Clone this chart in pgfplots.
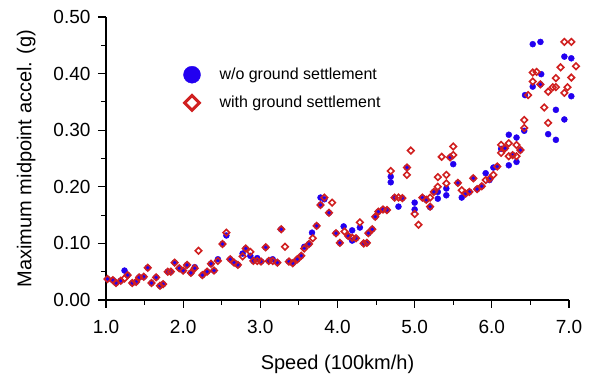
\documentclass[border=0pt]{standalone}
\usepackage{pgfplots}
\pgfplotsset{compat=1.18}
\usepackage{fontspec}
\setmainfont{Liberation Sans}
\definecolor{myblue}{RGB}{34,0,240}
\definecolor{myred}{RGB}{208,32,32}
\begin{document}
\begin{tikzpicture}
\begin{axis}[
  at={(0,0)}, anchor=south west,
  scale only axis, width=463pt, height=283pt,
  xmin=1, xmax=7, ymin=0, ymax=0.5,
  axis lines*=left, axis line style={line width=1.1pt},
  tick align=outside, tick style={line width=1.1pt, black},
  major tick length=8pt, minor tick length=5pt,
  xtick={1,2,...,7}, ytick={0,0.1,...,0.5},
  minor x tick num=1, minor y tick num=1,
  xticklabel style={yshift=-9pt, /pgf/number format/.cd, fixed, fixed zerofill, precision=1, assume math mode=true},
  yticklabel style={xshift=-4pt, /pgf/number format/.cd, fixed, fixed zerofill, precision=2, assume math mode=true},
  ticklabel style={font=\fontsize{19}{22}\selectfont},
  xlabel={Speed (100km/h)}, ylabel={Maximum midpoint accel. (g)},
  label style={font=\fontsize{20}{23}\selectfont},
  xlabel style={yshift=-14pt},
  ylabel style={yshift=11pt},
  clip=false,
  legend style={draw=none, fill=none, at={(0.167,0.827)}, anchor=north west,
     font=\fontsize{16}{19}\selectfont, row sep=11pt, inner sep=0pt,
     /tikz/every odd column/.append style={column sep=17pt}},
  legend cell align=left,
]
\addplot[only marks, mark=*, mark size=3pt, color=myblue, forget plot] coordinates {
(1.02,0.037) (1.09,0.035) (1.13,0.030) (1.19,0.034) (1.24,0.052) (1.28,0.044) (1.34,0.030) (1.39,0.032) (1.43,0.040) (1.49,0.041) (1.54,0.057) (1.59,0.030) (1.65,0.040) (1.70,0.025) (1.74,0.028) (1.80,0.050) (1.84,0.050) (1.89,0.066) (1.95,0.056) (2.00,0.052) (2.05,0.062) (2.10,0.048) (2.15,0.058) (2.25,0.044) (2.31,0.050) (2.36,0.064) (2.40,0.052) (2.45,0.072) (2.51,0.099) (2.56,0.114) (2.61,0.072) (2.66,0.066) (2.71,0.062) (2.77,0.082) (2.81,0.091) (2.87,0.078) (2.91,0.069) (2.96,0.074) (3.01,0.068) (3.07,0.093) (3.11,0.069) (3.16,0.072) (3.22,0.066) (3.27,0.125) (3.37,0.068) (3.42,0.065) (3.48,0.072) (3.53,0.078) (3.57,0.094) (3.63,0.099) (3.67,0.119) (3.73,0.131) (3.78,0.181) (3.78,0.168) (3.83,0.178) (3.89,0.154) (3.98,0.118) (4.03,0.101) (4.08,0.130) (4.14,0.113) (4.19,0.105) (4.19,0.123) (4.24,0.109) (4.29,0.128) (4.34,0.100) (4.38,0.101) (4.40,0.118) (4.45,0.125) (4.49,0.147) (4.53,0.156) (4.59,0.160) (4.64,0.159) (4.69,0.218) (4.69,0.208) (4.74,0.181) (4.79,0.165) (4.84,0.180) (4.90,0.234) (5.00,0.172) (5.00,0.160) (5.10,0.181) (5.15,0.177) (5.20,0.164) (5.25,0.191) (5.30,0.191) (5.30,0.179) (5.41,0.197) (5.41,0.185) (5.46,0.252) (5.50,0.240) (5.56,0.207) (5.61,0.181) (5.66,0.188) (5.71,0.191) (5.76,0.215) (5.81,0.196) (5.87,0.201) (5.92,0.224) (5.97,0.212) (6.02,0.234) (6.07,0.236) (6.12,0.267) (6.17,0.268) (6.22,0.292) (6.22,0.238) (6.27,0.256) (6.32,0.287) (6.32,0.244) (6.37,0.265) (6.42,0.299) (6.43,0.362) (6.53,0.452) (6.63,0.456) (6.53,0.377) (6.64,0.399) (6.63,0.381) (6.73,0.293) (6.83,0.336) (6.83,0.283) (6.94,0.430) (7.03,0.427) (6.94,0.319) (7.03,0.360)
};
\addplot[only marks, mark=square, mark size=2.3pt, color=myred, mark options={rotate=45, line width=1.6pt, fill=none}, forget plot] coordinates {
(1.02,0.037) (1.09,0.035) (1.13,0.030) (1.19,0.034) (1.24,0.038) (1.28,0.044) (1.34,0.030) (1.39,0.032) (1.43,0.040) (1.49,0.041) (1.54,0.057) (1.59,0.030) (1.65,0.040) (1.70,0.025) (1.74,0.028) (1.80,0.050) (1.84,0.050) (1.89,0.066) (1.95,0.056) (2.00,0.052) (2.05,0.062) (2.10,0.048) (2.15,0.056) (2.20,0.087) (2.25,0.044) (2.31,0.050) (2.36,0.064) (2.40,0.052) (2.45,0.069) (2.51,0.099) (2.56,0.119) (2.61,0.072) (2.66,0.066) (2.71,0.062) (2.77,0.077) (2.81,0.091) (2.87,0.085) (2.91,0.069) (2.96,0.069) (3.01,0.068) (3.07,0.093) (3.11,0.069) (3.16,0.069) (3.22,0.066) (3.27,0.125) (3.32,0.094) (3.37,0.068) (3.42,0.065) (3.48,0.072) (3.53,0.078) (3.57,0.091) (3.63,0.099) (3.68,0.109) (3.73,0.131) (3.78,0.168) (3.83,0.181) (3.89,0.154) (3.93,0.172) (3.98,0.118) (4.03,0.101) (4.09,0.121) (4.14,0.113) (4.19,0.110) (4.24,0.109) (4.29,0.137) (4.34,0.100) (4.38,0.101) (4.40,0.118) (4.45,0.125) (4.49,0.147) (4.53,0.156) (4.59,0.160) (4.64,0.159) (4.69,0.228) (4.74,0.181) (4.79,0.181) (4.84,0.180) (4.90,0.234) (4.90,0.221) (4.95,0.264) (5.00,0.152) (5.05,0.133) (5.10,0.181) (5.15,0.177) (5.20,0.165) (5.20,0.181) (5.25,0.191) (5.30,0.200) (5.30,0.217) (5.35,0.253) (5.41,0.221) (5.41,0.206) (5.46,0.252) (5.50,0.271) (5.50,0.256) (5.56,0.207) (5.61,0.194) (5.66,0.188) (5.71,0.191) (5.76,0.215) (5.81,0.196) (5.87,0.201) (5.92,0.212) (5.97,0.214) (6.02,0.221) (6.07,0.236) (6.12,0.274) (6.12,0.260) (6.17,0.268) (6.22,0.277) (6.22,0.254) (6.27,0.256) (6.32,0.274) (6.32,0.254) (6.37,0.265) (6.42,0.318) (6.42,0.304) (6.47,0.362) (6.53,0.402) (6.53,0.386) (6.58,0.403) (6.63,0.381) (6.68,0.340) (6.73,0.368) (6.73,0.313) (6.79,0.376) (6.83,0.376) (6.83,0.392) (6.89,0.411) (6.94,0.366) (6.94,0.456) (6.98,0.376) (7.03,0.393) (7.03,0.456) (7.09,0.413)
};
\addlegendimage{only marks, mark=*, mark size=8.5pt, color=myblue}
\addlegendentry{w/o ground settlement}
\addlegendimage{only marks, mark=square, mark size=5.2pt, color=myred, mark options={rotate=45, line width=3pt, fill=white}}
\addlegendentry{with ground settlement}
\end{axis}
\pgfresetboundingbox
\path (-106pt,-74pt) rectangle (488pt,300pt);
\end{tikzpicture}
\end{document}
